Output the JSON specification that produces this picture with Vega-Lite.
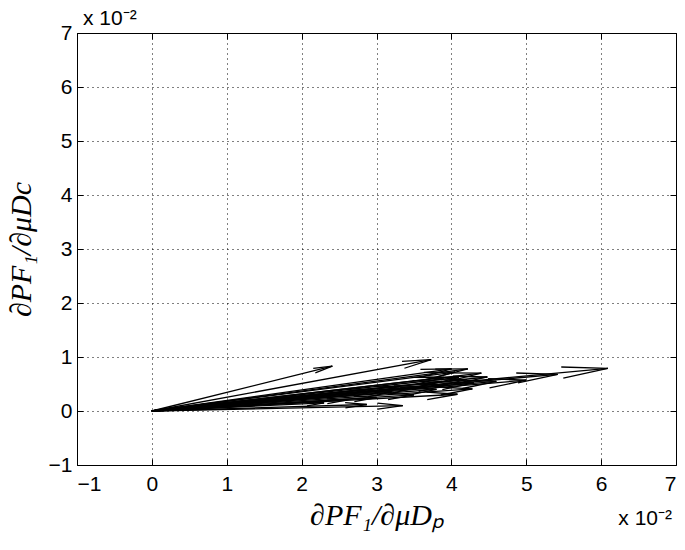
{
  "$schema": "https://vega.github.io/schema/vega-lite/v6.json",
  "width": 599,
  "height": 432,
  "autosize": "none",
  "padding": {"left": 77, "top": 33, "right": 9, "bottom": 85},
  "background": "white",
  "config": {
    "view": {"stroke": "black", "strokeWidth": 1},
    "axis": {
      "labelFont": "Liberation Sans", "labelFontSize": 21, "labelColor": "black",
      "domain": false, "tickColor": "black", "tickSize": -6, "tickWidth": 1,
      "grid": true, "gridColor": "black", "gridDash": [1, 4], "gridWidth": 1, "gridOpacity": 1,
      "titleFont": "Liberation Serif", "titleFontStyle": "italic", "titleFontWeight": "normal", "titleFontSize": 30, "titleColor": "black"
    }
  },
  "data": {"values": [
    {"x0": 0, "y0": 0, "u": 2.41, "v": 0.83},
    {"x0": 0, "y0": 0, "u": 3.73, "v": 0.95},
    {"x0": 0, "y0": 0, "u": 4.00, "v": 0.78},
    {"x0": 0, "y0": 0, "u": 4.22, "v": 0.78},
    {"x0": 0, "y0": 0, "u": 4.05, "v": 0.72},
    {"x0": 0, "y0": 0, "u": 3.88, "v": 0.55},
    {"x0": 0, "y0": 0, "u": 4.48, "v": 0.63},
    {"x0": 0, "y0": 0, "u": 4.10, "v": 0.62},
    {"x0": 0, "y0": 0, "u": 5.00, "v": 0.57},
    {"x0": 0, "y0": 0, "u": 5.42, "v": 0.68},
    {"x0": 0, "y0": 0, "u": 6.09, "v": 0.79},
    {"x0": 0, "y0": 0, "u": 4.28, "v": 0.41},
    {"x0": 0, "y0": 0, "u": 4.08, "v": 0.31},
    {"x0": 0, "y0": 0, "u": 3.60, "v": 0.45},
    {"x0": 0, "y0": 0, "u": 3.35, "v": 0.10},
    {"x0": 0, "y0": 0, "u": 2.87, "v": 0.12},
    {"x0": 0, "y0": 0, "u": 3.20, "v": 0.35},
    {"x0": 0, "y0": 0, "u": 3.95, "v": 0.48},
    {"x0": 0, "y0": 0, "u": 4.30, "v": 0.52},
    {"x0": 0, "y0": 0, "u": 3.00, "v": 0.25},
    {"x0": 0, "y0": 0, "u": 3.50, "v": 0.30},
    {"x0": 0, "y0": 0, "u": 2.60, "v": 0.20},
    {"x0": 0, "y0": 0, "u": 4.60, "v": 0.55},
    {"x0": 0, "y0": 0, "u": 3.80, "v": 0.40},
    {"x0": 0, "y0": 0, "u": 2.30, "v": 0.15},
    {"x0": 0, "y0": 0, "u": 3.90, "v": 0.62},
    {"x0": 0, "y0": 0, "u": 4.40, "v": 0.70},
    {"x0": 0, "y0": 0, "u": 3.30, "v": 0.45},
    {"x0": 0, "y0": 0, "u": 4.20, "v": 0.58},
    {"x0": 0, "y0": 0, "u": 2.90, "v": 0.40}
  ]},
  "transform": [
    {"calculate": "datum.u - 0.1 * (datum.u + 0.17 * datum.v)", "as": "bx1"},
    {"calculate": "datum.v - 0.1 * (datum.v - 0.17 * datum.u)", "as": "by1"},
    {"calculate": "datum.u - 0.1 * (datum.u - 0.17 * datum.v)", "as": "bx2"},
    {"calculate": "datum.v - 0.1 * (datum.v + 0.17 * datum.u)", "as": "by2"}
  ],
  "resolve": {"axis": {"x": "independent", "y": "independent"}},
  "layer": [
    {
      "mark": {"type": "rule", "color": "black", "strokeWidth": 1.3},
      "encoding": {
        "x": {"field": "x0", "type": "quantitative", "scale": {"domain": [-1, 7], "nice": false, "zero": false},
              "axis": {"orient": "bottom", "values": [-1, 0, 1, 2, 3, 4, 5, 6, 7], "format": "d", "labelPadding": 14, "title": "∂PF₁/∂μDₚ", "titlePadding": 6}},
        "y": {"field": "y0", "type": "quantitative", "scale": {"domain": [-1, 7], "nice": false, "zero": false},
              "axis": {"orient": "left", "values": [-1, 0, 1, 2, 3, 4, 5, 6, 7], "format": "d", "labelPadding": 11, "title": "∂PF₁/∂μDc", "titlePadding": 12}},
        "x2": {"field": "u"},
        "y2": {"field": "v"}
      }
    },
    {
      "mark": {"type": "rule", "color": "black", "strokeWidth": 1.3},
      "encoding": {
        "x": {"field": "u", "type": "quantitative", "axis": null},
        "y": {"field": "v", "type": "quantitative", "axis": null},
        "x2": {"field": "bx1"},
        "y2": {"field": "by1"}
      }
    },
    {
      "mark": {"type": "rule", "color": "black", "strokeWidth": 1.3},
      "encoding": {
        "x": {"field": "u", "type": "quantitative", "axis": null},
        "y": {"field": "v", "type": "quantitative", "axis": null},
        "x2": {"field": "bx2"},
        "y2": {"field": "by2"}
      }
    },
    {
      "mark": {"type": "rule", "opacity": 0},
      "encoding": {
        "x": {"field": "u", "type": "quantitative", "axis": {"orient": "top", "values": [-1, 0, 1, 2, 3, 4, 5, 6, 7], "labels": false, "grid": false, "title": null}},
        "y": {"field": "v", "type": "quantitative", "axis": {"orient": "right", "values": [-1, 0, 1, 2, 3, 4, 5, 6, 7], "labels": false, "grid": false, "title": null}}
      }
    },
    {
      "data": {"values": [{"label": "x 10⁻²"}]},
      "mark": {"type": "text", "font": "Liberation Sans", "fontSize": 21, "align": "right", "baseline": "alphabetic", "dy": 60, "dx": -4, "color": "black"},
      "encoding": {
        "x": {"datum": 7, "type": "quantitative", "axis": null},
        "y": {"datum": -1, "type": "quantitative", "axis": null},
        "text": {"field": "label"}
      }
    },
    {
      "data": {"values": [{"label": "x 10⁻²"}]},
      "mark": {"type": "text", "font": "Liberation Sans", "fontSize": 21, "align": "left", "baseline": "alphabetic", "dy": -8, "dx": 6, "color": "black"},
      "encoding": {
        "x": {"datum": -1, "type": "quantitative", "axis": null},
        "y": {"datum": 7, "type": "quantitative", "axis": null},
        "text": {"field": "label"}
      }
    }
  ]
}
